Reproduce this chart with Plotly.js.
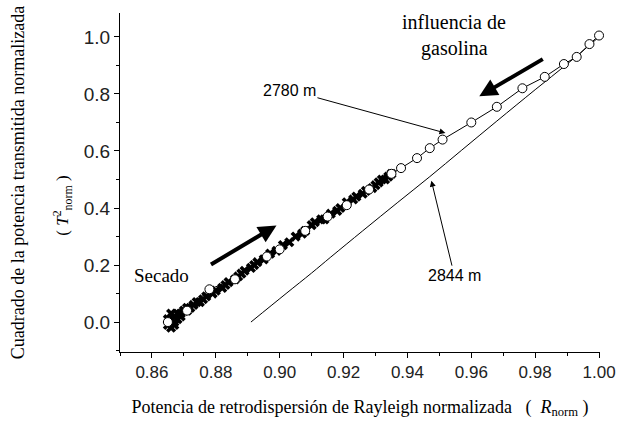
<!DOCTYPE html>
<html>
<head>
<meta charset="utf-8">
<script src="https://cdn.plot.ly/plotly-3.0.1.min.js"></script>
<style>html,body{margin:0;padding:0;background:#fff;}#chart{width:633px;height:424px;}</style>
</head>
<body>
<div id="chart"></div>
<script>
// 2780 m – influencia de gasolina (open circles)
const circX = [0.865, 0.871, 0.878, 0.886, 0.896, 0.900, 0.908, 0.915, 0.921, 0.928, 0.935, 0.938, 0.943, 0.947, 0.951, 0.960, 0.968, 0.976, 0.983, 0.989, 0.993, 0.997, 1.000];
const circY = [0.00, 0.04, 0.115, 0.15, 0.23, 0.255, 0.32, 0.37, 0.41, 0.465, 0.52, 0.54, 0.575, 0.61, 0.64, 0.70, 0.755, 0.82, 0.86, 0.905, 0.93, 0.975, 1.005];
// Secado (crosses)
const crossX = [0.865, 0.865, 0.866, 0.866, 0.866, 0.867, 0.867, 0.867, 0.868, 0.868, 0.869, 0.869, 0.870, 0.871, 0.871, 0.872, 0.873, 0.874, 0.875, 0.876, 0.877, 0.879, 0.880, 0.882, 0.883, 0.884, 0.886, 0.887, 0.888, 0.889, 0.891, 0.892, 0.893, 0.895, 0.897, 0.899, 0.901, 0.903, 0.905, 0.907, 0.908, 0.910, 0.911, 0.913, 0.914, 0.916, 0.918, 0.919, 0.921, 0.923, 0.924, 0.926, 0.927, 0.929, 0.930, 0.931, 0.932, 0.933, 0.934, 0.935];
const crossY = [-0.01, 0.01, -0.02, 0.01, 0.03, 0.02, 0.00, -0.01, 0.03, 0.01, 0.03, 0.02, 0.04, 0.04, 0.05, 0.05, 0.06, 0.07, 0.07, 0.08, 0.09, 0.10, 0.11, 0.12, 0.13, 0.14, 0.15, 0.16, 0.17, 0.18, 0.19, 0.20, 0.21, 0.22, 0.24, 0.25, 0.27, 0.28, 0.30, 0.31, 0.32, 0.34, 0.35, 0.36, 0.36, 0.38, 0.39, 0.40, 0.42, 0.43, 0.44, 0.45, 0.46, 0.47, 0.48, 0.49, 0.50, 0.50, 0.51, 0.52];
// 2844 m (plain line)
const lineX = [0.891, 0.902, 0.910, 0.916, 0.926, 0.937, 0.947, 0.957, 0.968, 0.980, 0.990, 1.000];
const lineY = [0.00, 0.10, 0.172, 0.228, 0.32, 0.42, 0.51, 0.603, 0.705, 0.815, 0.905, 1.00];

const serif = 'Liberation Serif, Times New Roman, serif';
const sans = 'Liberation Sans, Arial, sans-serif';

const traces = [
  {x: lineX, y: lineY, mode: 'lines', name: '2844 m', line: {color: '#000', width: 1, shape: 'spline'}, cliponaxis: false},
  {x: crossX, y: crossY, mode: 'lines+markers', name: 'Secado', line: {color: '#000', width: 1},
   marker: {symbol: 'x', size: 9, color: '#000'}, cliponaxis: false},
  {x: circX, y: circY, mode: 'lines+markers', name: '2780 m', line: {color: '#000', width: 1},
   marker: {symbol: 'circle', size: 9, color: '#fff', line: {color: '#000', width: 1}}, cliponaxis: false}
];

const layout = {
  width: 633, height: 424,
  margin: {l: 120, r: 33, t: 13, b: 72},
  paper_bgcolor: '#fff', plot_bgcolor: '#fff',
  showlegend: false,
  font: {family: sans, color: '#000'},
  xaxis: {
    range: [0.85, 1.0003], showgrid: false, zeroline: false,
    showline: true, linecolor: '#000', linewidth: 1,
    ticks: 'outside', ticklen: 5, tickcolor: '#000',
    tick0: 0.86, dtick: 0.02, tickformat: '.2f',
    tickfont: {family: sans, size: 17, color: '#222'},
    minor: {dtick: 0.01, ticks: 'outside', ticklen: 3, tickcolor: '#000'},
    title: {text: 'Potencia de retrodispersión de Rayleigh normalizada   (  <i>R</i><sub>norm</sub> )',
            font: {family: serif, size: 18, color: '#000'}, standoff: 18}
  },
  yaxis: {
    range: [-0.105, 1.084], showgrid: false, zeroline: false,
    showline: true, linecolor: '#000', linewidth: 1,
    ticks: 'outside', ticklen: 5, tickcolor: '#000',
    tick0: 0, dtick: 0.2, tickformat: '.1f',
    tickfont: {family: sans, size: 19, color: '#222'},
    minor: {dtick: 0.1, ticks: 'outside', ticklen: 3, tickcolor: '#000'},
    title: {text: 'Cuadrado de la potencia transmitida normalizada',
            font: {family: serif, size: 18, color: '#000'}, standoff: 54}
  },
  annotations: [
    {xref: 'paper', yref: 'paper', x: -0.15, y: 0.43, text: '( <i>T</i><sup>2</sup><sub>norm</sub> )',
     textangle: -90, showarrow: false, font: {family: serif, size: 17}},
    {x: 0.9547, y: 1.052, text: 'influencia de', showarrow: false, font: {family: serif, size: 20}},
    {x: 0.9547, y: 0.96, text: 'gasolina', showarrow: false, font: {family: serif, size: 20}},
    {x: 0.9625, y: 0.792, ax: 65, ay: -38, text: '', showarrow: true, arrowhead: 2, arrowsize: 0.9, arrowwidth: 4, arrowcolor: '#000'},
    {x: 0.8631, y: 0.164, text: 'Secado', showarrow: false, font: {family: serif, size: 19}},
    {x: 0.899, y: 0.339, ax: -67, ay: 40, text: '', showarrow: true, arrowhead: 2, arrowsize: 0.9, arrowwidth: 4, arrowcolor: '#000'},
    {x: 0.9519, y: 0.663, ax: -156, ay: -43, text: '2780 m', showarrow: true, arrowhead: 2, arrowsize: 1.2, arrowwidth: 1, arrowcolor: '#000',
     font: {family: sans, size: 16}},
    {x: 0.9475, y: 0.496, ax: 23, ay: 95, text: '2844 m', showarrow: true, arrowhead: 2, arrowsize: 1.2, arrowwidth: 1, arrowcolor: '#000',
     font: {family: sans, size: 16}}
  ]
};

Plotly.newPlot('chart', traces, layout, {staticPlot: true, displayModeBar: false});
</script>
</body>
</html>
